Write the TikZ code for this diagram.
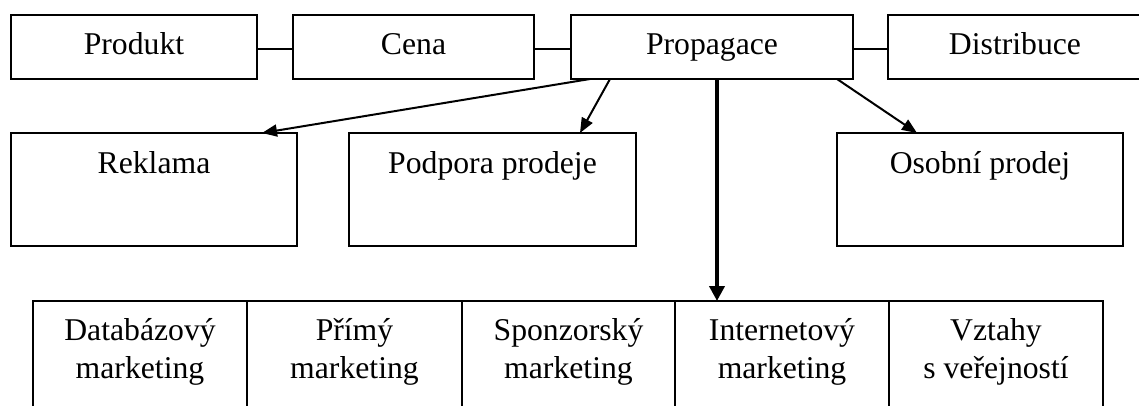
\documentclass[tikz,border=0pt]{standalone}
\usepackage{fontspec}
\setmainfont{Liberation Serif}
\usetikzlibrary{arrows.meta}

\begin{document}
\begin{tikzpicture}[x=1pt,y=-1pt,
  cell/.style={draw, rectangle, line width=2pt, inner sep=0pt, outer sep=0pt, anchor=north west},
  txt/.style={inner sep=0pt, anchor=base, align=center, font=\fontsize{31.7}{38}\selectfont},
  link/.style={line width=2pt},
  arr/.style={line width=2pt, -{Triangle[length=15pt,width=12pt]}},
  mainarr/.style={line width=4pt, -{Triangle[length=15pt,width=15pt]}}]

  \useasboundingbox (0,0) rectangle (1139,406);
  \clip (0,0) rectangle (1139,406);

  % marketing mix
  \node[cell, minimum width=246pt, minimum height=64pt] (produkt) at (11,15) {};
  \node[cell, minimum width=241pt, minimum height=64pt] (cena) at (293,15) {};
  \node[cell, minimum width=282pt, minimum height=64pt] (propagace) at (571,15) {};
  \node[cell, minimum width=254pt, minimum height=64pt] (distribuce) at (888,15) {};

  \node[txt] (tProdukt) at ([yshift=-40pt]produkt.north) {Produkt};
  \node[txt] (tCena) at ([yshift=-40pt]cena.north) {Cena};
  \node[txt] (tPropagace) at ([yshift=-40pt]propagace.north) {Propagace};
  \node[txt] (tDistribuce) at ([yshift=-40pt]distribuce.north) {Distribuce};

  \draw[link] ([yshift=-2pt]produkt.east) -- ([yshift=-2pt]cena.west);
  \draw[link] ([yshift=-2pt]cena.east) -- ([yshift=-2pt]propagace.west);
  \draw[link] ([yshift=-2pt]propagace.east) -- ([yshift=-2pt]distribuce.west);

  % promotion tools
  \node[cell, minimum width=286pt, minimum height=113pt] (reklama) at (11,133) {};
  \node[cell, minimum width=287pt, minimum height=113pt] (podpora) at (349,133) {};
  \node[cell, minimum width=286pt, minimum height=113pt] (osobni) at (837,133) {};

  \node[txt] (tReklama) at ([yshift=-40pt]reklama.north) {Reklama};
  \node[txt] (tPodpora) at ([yshift=-40pt]podpora.north) {Podpora prodeje};
  \node[txt] (tOsobni) at ([yshift=-40pt]osobni.north) {Osobní prodej};

  % further forms of communication (two-line labels, anchored on the last line)
  \node[cell, minimum width=214pt, minimum height=130pt] (databaze) at (33,301) {};
  \node[cell, minimum width=215pt, minimum height=130pt] (primy) at (247,301) {};
  \node[cell, minimum width=213pt, minimum height=130pt] (sponzor) at (462,301) {};
  \node[cell, minimum width=214pt, minimum height=130pt] (internet) at (675,301) {};
  \node[cell, minimum width=214pt, minimum height=130pt] (vztahy) at (889,301) {};

  \node[txt] (tDatabaze) at ([yshift=-77pt]databaze.north) {Databázový\\marketing};
  \node[txt] (tPrimy) at ([yshift=-77pt]primy.north) {Přímý\\marketing};
  \node[txt] (tSponzor) at ([yshift=-77pt]sponzor.north) {Sponzorský\\marketing};
  \node[txt] (tInternet) at ([yshift=-77pt]internet.north) {Internetový\\marketing};
  \node[txt] (tVztahy) at ([yshift=-77pt]vztahy.north) {Vztahy\\s veřejností};

  % arrows from Propagace
  \draw[arr] ([xshift=19pt]propagace.south west) -- ([xshift=-35pt]reklama.north east);
  \draw[arr] ([xshift=39pt]propagace.south west) -- ([xshift=-56pt]podpora.north east);
  \draw[arr] ([xshift=-16pt]propagace.south east) -- ([xshift=80pt]osobni.north west);
  \draw[mainarr] ([xshift=146pt]propagace.south west) -- ([xshift=42pt]internet.north west);
\end{tikzpicture}
\end{document}
